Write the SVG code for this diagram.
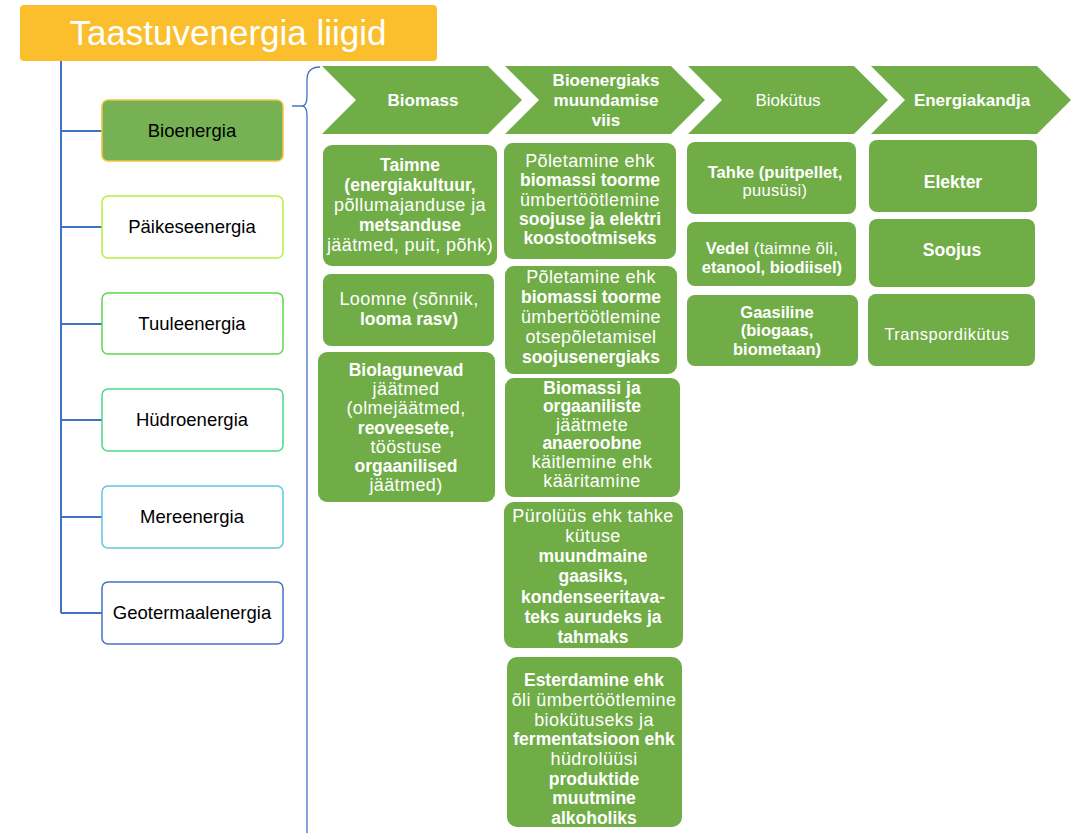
<svg xmlns="http://www.w3.org/2000/svg" width="1075" height="833" viewBox="0 0 1075 833">
<style>
text{font-family:"Liberation Sans",Arial,sans-serif;}
.g{fill:#70AD47;}
.w{fill:#ffffff;font-size:18px;letter-spacing:0.4px;text-anchor:middle;}
.b{font-weight:bold;font-size:17.5px;letter-spacing:0;}
.s{fill:#ffffff;font-size:16.5px;letter-spacing:0.3px;text-anchor:middle;}
.sb{font-weight:bold;letter-spacing:0;}
.lt{fill:#000000;font-size:18.5px;text-anchor:middle;}
.lb{fill:#ffffff;stroke-width:1.5;}
.con{fill:none;stroke:#4472C4;stroke-width:2;}
.chev{fill:#70AD47;}
.ct{fill:#ffffff;font-size:17px;text-anchor:middle;font-weight:bold;}
</style>
<rect width="1075" height="833" fill="#ffffff"/>

<g id="connectors">
  <path class="con" d="M61 61 V613 M61 131 H102 M61 227 H102 M61 324 H102 M61 420 H102 M61 517 H102 M61 613 H102"/>
  <path d="M292 106 H302" fill="none" stroke="#4472C4" stroke-width="1.5"/>
  <path d="M320 67 Q307 67 307 80 V96 Q307 106 302 106 Q307 106 307 116 V833" fill="none" stroke="#4472C4" stroke-width="1.3"/>
</g>

<g id="title">
  <rect x="20" y="5" width="417" height="56" rx="4" fill="#FBBF2E"/>
  <text x="228" y="45" fill="#ffffff" font-size="35" text-anchor="middle">Taastuvenergia liigid</text>
</g>

<g id="bioenergia">
  <rect x="102" y="100" width="181" height="61" rx="6" fill="#76B254" stroke="#F5C242" stroke-width="1.5"/>
  <text class="lt" x="192" y="137">Bioenergia</text>
</g>
<g id="paikeseenergia">
  <rect class="lb" x="102" y="196" width="181" height="62" rx="6" stroke="#B5F03C"/>
  <text class="lt" x="192" y="233">Päikeseenergia</text>
</g>
<g id="tuuleenergia">
  <rect class="lb" x="102" y="293" width="181" height="61" rx="6" stroke="#5CD84A"/>
  <text class="lt" x="192" y="330">Tuuleenergia</text>
</g>
<g id="hudroenergia">
  <rect class="lb" x="102" y="389" width="181" height="62" rx="6" stroke="#4CD88A"/>
  <text class="lt" x="192" y="426">Hüdroenergia</text>
</g>
<g id="mereenergia">
  <rect class="lb" x="102" y="486" width="181" height="62" rx="6" stroke="#5CC8D8"/>
  <text class="lt" x="192" y="523">Mereenergia</text>
</g>
<g id="geotermaalenergia">
  <rect class="lb" x="102" y="582" width="181" height="62" rx="6" stroke="#4A6FCC"/>
  <text class="lt" x="192" y="619">Geotermaalenergia</text>
</g>

<g id="chev-biomass">
  <polygon class="chev" points="322,66 488,66 522,100 488,134 322,134 356,100"/>
  <text class="ct" x="423" y="106">Biomass</text>
</g>
<g id="chev-muundamine">
  <polygon class="chev" points="505,66 671,66 705,100 671,134 505,134 539,100"/>
  <text class="ct" x="606" y="86">Bioenergiaks</text>
  <text class="ct" x="606" y="106">muundamise</text>
  <text class="ct" x="606" y="126">viis</text>
</g>
<g id="chev-biokutus">
  <polygon class="chev" points="688,66 854,66 888,100 854,134 688,134 722,100"/>
  <text class="ct" x="788" y="106" style="font-weight:normal">Biokütus</text>
</g>
<g id="chev-energiakandja">
  <polygon class="chev" points="871,66 1037,66 1071,100 1037,134 871,134 905,100"/>
  <text class="ct" x="972" y="106">Energiakandja</text>
</g>

<g id="taimne">
  <rect class="g" x="323" y="145" width="174" height="121" rx="9"/>
  <text class="w" x="410"><tspan x="410" y="171" class="b">Taimne</tspan><tspan x="410" y="191" class="b">(energiakultuur,</tspan><tspan x="410" y="211">põllumajanduse ja</tspan><tspan x="410" y="231" class="b">metsanduse</tspan><tspan x="410" y="251">jäätmed, puit, põhk)</tspan></text>
</g>
<g id="loomne">
  <rect class="g" x="323" y="274" width="171" height="72" rx="8"/>
  <text class="w" x="409"><tspan x="409" y="305">Loomne  (sõnnik,</tspan><tspan x="409" y="325" class="b">looma rasv)</tspan></text>
</g>
<g id="biolagunevad">
  <rect class="g" x="318" y="352" width="177" height="150" rx="9"/>
  <text class="w" x="406"><tspan x="406" y="376" class="b">Biolagunevad</tspan><tspan x="406" y="395">jäätmed</tspan><tspan x="406" y="414">(olmejäätmed,</tspan><tspan x="406" y="434" class="b">reoveesete,</tspan><tspan x="406" y="453">tööstuse</tspan><tspan x="406" y="472" class="b">orgaanilised</tspan><tspan x="406" y="491">jäätmed)</tspan></text>
</g>

<g id="koostootmine">
  <rect class="g" x="504" y="143" width="172" height="116" rx="9"/>
  <text class="w" x="590"><tspan x="590" y="167">Põletamine ehk</tspan><tspan x="590" y="186" class="b">biomassi toorme</tspan><tspan x="590" y="206">ümbertöötlemine</tspan><tspan x="590" y="225" class="b">soojuse ja elektri</tspan><tspan x="590" y="244" class="b">koostootmiseks</tspan></text>
</g>
<g id="otsepoletamine">
  <rect class="g" x="505" y="266" width="172" height="108" rx="9"/>
  <text class="w" x="591"><tspan x="591" y="283">Põletamine ehk</tspan><tspan x="591" y="303" class="b">biomassi toorme</tspan><tspan x="591" y="323">ümbertöötlemine</tspan><tspan x="591" y="343">otsepõletamisel</tspan><tspan x="591" y="363" class="b">soojusenergiaks</tspan></text>
</g>
<g id="kaaritamine">
  <rect class="g" x="505" y="378" width="175" height="119" rx="9"/>
  <text class="w" x="592"><tspan x="592" y="394" class="b">Biomassi ja</tspan><tspan x="592" y="412" class="b">orgaaniliste</tspan><tspan x="592" y="431">jäätmete</tspan><tspan x="592" y="449" class="b">anaeroobne</tspan><tspan x="592" y="468">käitlemine ehk</tspan><tspan x="592" y="487">kääritamine</tspan></text>
</g>
<g id="purolyys">
  <rect class="g" x="504" y="502" width="179" height="146" rx="10"/>
  <text class="w" x="593"><tspan x="593" y="522">Pürolüüs ehk tahke</tspan><tspan x="593" y="542">kütuse</tspan><tspan x="593" y="562" class="b">muundmaine</tspan><tspan x="593" y="582" class="b">gaasiks,</tspan><tspan x="593" y="603" class="b">kondenseeritava-</tspan><tspan x="593" y="623" class="b">teks aurudeks ja</tspan><tspan x="593" y="643" class="b">tahmaks</tspan></text>
</g>
<g id="esterdamine">
  <rect class="g" x="507" y="657" width="175" height="170" rx="10"/>
  <text class="w" x="594"><tspan x="594" y="686" class="b">Esterdamine ehk</tspan><tspan x="594" y="706">õli ümbertöötlemine</tspan><tspan x="594" y="726">biokütuseks ja</tspan><tspan x="594" y="745" class="b">fermentatsioon ehk</tspan><tspan x="594" y="765">hüdrolüüsi</tspan><tspan x="594" y="785" class="b">produktide</tspan><tspan x="594" y="804" class="b">muutmine</tspan><tspan x="594" y="824" class="b">alkoholiks</tspan></text>
</g>

<g id="tahke">
  <rect class="g" x="687" y="142" width="169" height="72" rx="8"/>
  <text class="s" x="775"><tspan x="775" y="178" class="sb">Tahke (puitpellet,</tspan><tspan x="775" y="196">puusüsi)</tspan></text>
</g>
<g id="vedel">
  <rect class="g" x="687" y="222" width="169" height="64" rx="8"/>
  <text class="s" x="772"><tspan x="772" y="254"><tspan class="sb">Vedel</tspan> (taimne õli,</tspan><tspan x="772" y="273" class="sb">etanool, biodiisel)</tspan></text>
</g>
<g id="gaasiline">
  <rect class="g" x="687" y="295" width="171" height="71" rx="8"/>
  <text class="s sb" x="777"><tspan x="777" y="318">Gaasiline</tspan><tspan x="777" y="336">(biogaas,</tspan><tspan x="777" y="355">biometaan)</tspan></text>
</g>

<g id="elekter">
  <rect class="g" x="869" y="140" width="168" height="72" rx="8"/>
  <text class="w b" x="953" y="188">Elekter</text>
</g>
<g id="soojus">
  <rect class="g" x="869" y="219" width="166" height="68" rx="8"/>
  <text class="w b" x="952" y="256">Soojus</text>
</g>
<g id="transpordikutus">
  <rect class="g" x="868" y="294" width="167" height="72" rx="8"/>
  <text class="w" x="947" y="340" style="font-size:16.5px;letter-spacing:0.5px">Transpordikütus</text>
</g>
</svg>
